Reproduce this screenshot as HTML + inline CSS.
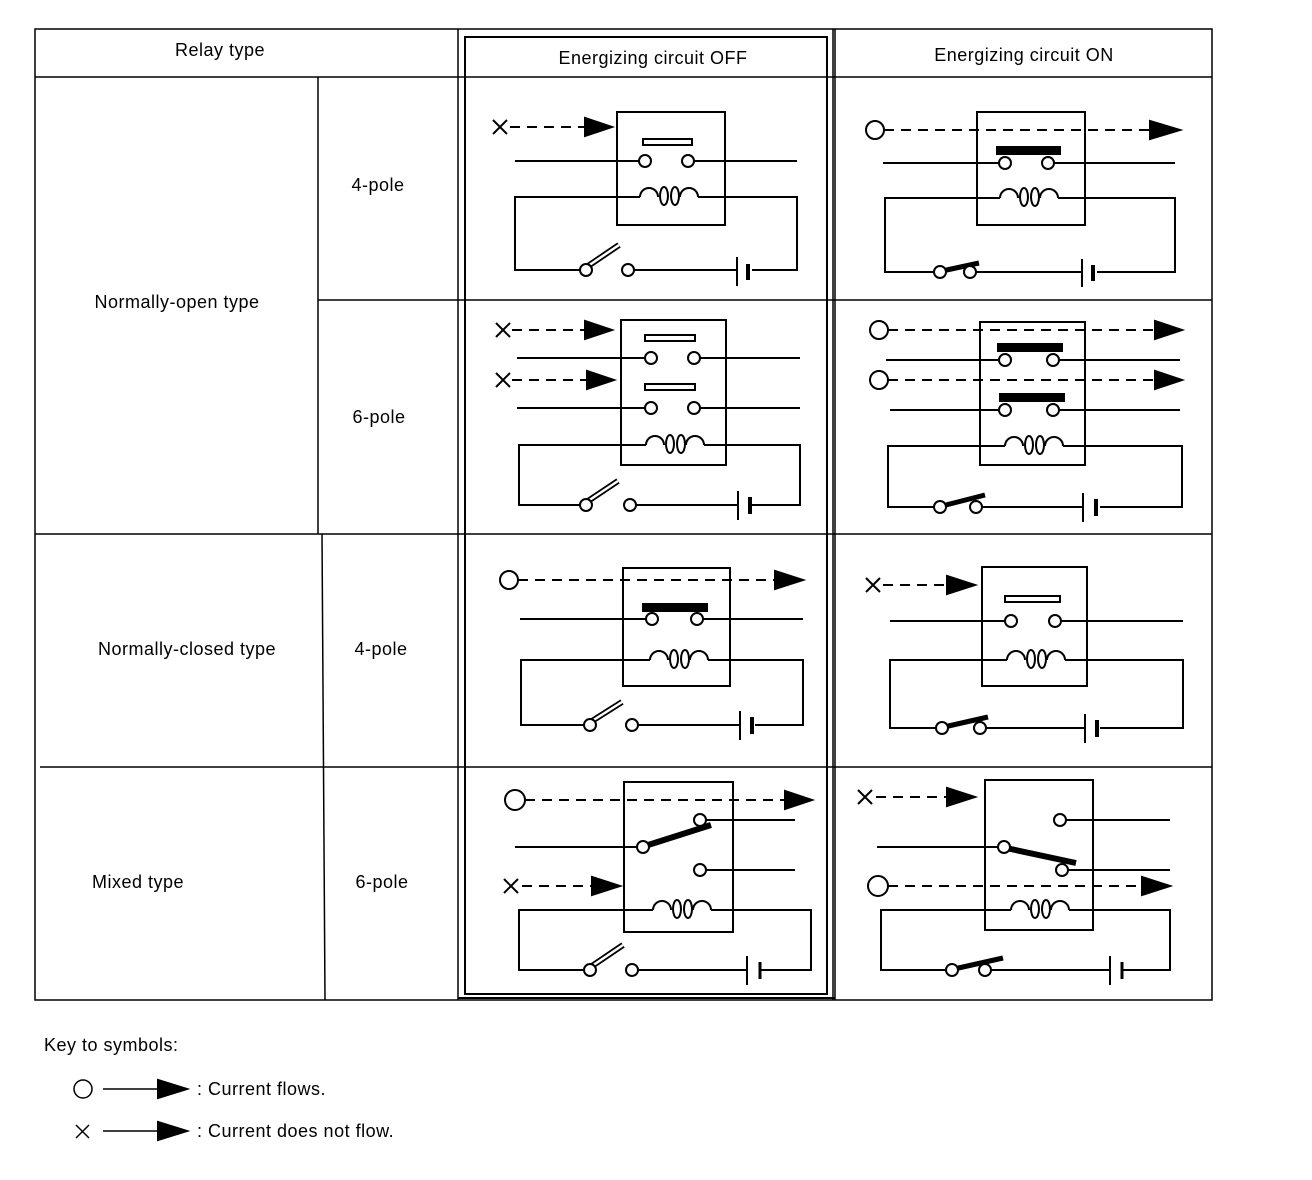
<!DOCTYPE html>
<html><head><style>
html,body{margin:0;padding:0;background:#fff;}
svg{display:block;}
text{font-family:"Liberation Sans",sans-serif;font-size:18px;fill:#000;letter-spacing:0.5px;}
</style></head><body>
<svg width="1312" height="1180" viewBox="0 0 1312 1180" xmlns="http://www.w3.org/2000/svg">
<defs>
<g id="coil" fill="none" stroke="#000" stroke-width="2">
<path d="M0,0 A9,9 0 0 1 18,0"/>
<ellipse cx="24" cy="-1" rx="4" ry="9" fill="#fff"/>
<ellipse cx="35" cy="-1" rx="4" ry="9" fill="#fff"/>
<path d="M40,0 A9,9 0 0 1 58,0"/>
</g>
</defs>
<g fill="none" stroke="#000" stroke-width="1.5">
<!-- table -->
<rect x="35" y="29" width="1177" height="971"/>
<line x1="35" y1="77" x2="1212" y2="77"/>
<line x1="318" y1="77" x2="318" y2="534"/>
<line x1="322" y1="534" x2="325" y2="1000"/>
<line x1="318" y1="300" x2="458" y2="300"/>
<line x1="35" y1="534" x2="1212" y2="534"/>
<line x1="40" y1="767" x2="1212" y2="767"/>
<line x1="458" y1="29" x2="458" y2="1000"/>
<line x1="833" y1="29" x2="833" y2="1000"/>
<line x1="458" y1="300" x2="1212" y2="300"/>
<rect x="465" y="37" width="362" height="957" stroke-width="2"/>
<line x1="458" y1="998" x2="835" y2="998" stroke-width="2"/>
<line x1="835" y1="29" x2="835" y2="1000"/>
</g>
<text x="220" y="56" text-anchor="middle">Relay type</text>
<text x="653" y="64" text-anchor="middle">Energizing circuit OFF</text>
<text x="1024" y="61" text-anchor="middle">Energizing circuit ON</text>
<text x="378" y="191" text-anchor="middle">4-pole</text>
<text x="177" y="308" text-anchor="middle">Normally-open type</text>
<text x="379" y="423" text-anchor="middle">6-pole</text>
<text x="187" y="655" text-anchor="middle">Normally-closed type</text>
<text x="381" y="655" text-anchor="middle">4-pole</text>
<text x="138" y="888" text-anchor="middle">Mixed type</text>
<text x="382" y="888" text-anchor="middle">6-pole</text>

<g fill="none" stroke="#000" stroke-width="2">
<!-- ===== NO4 OFF ===== -->
<rect x="617" y="112" width="108" height="113"/>
<line x1="493" y1="120" x2="507" y2="134"/><line x1="507" y1="120" x2="493" y2="134"/>
<line x1="510" y1="127" x2="588" y2="127" stroke-dasharray="10 7"/>
<polygon points="585,118 612,127 585,136" fill="#000"/>
<rect x="643" y="139" width="49" height="6" fill="#fff"/>
<line x1="515" y1="161" x2="639" y2="161"/><line x1="694" y1="161" x2="797" y2="161"/>
<circle cx="645" cy="161" r="6" fill="#fff"/><circle cx="688" cy="161" r="6" fill="#fff"/>
<polyline points="640,197 515,197 515,270 580,270"/>
<polyline points="698,197 797,197 797,270 752,270"/>
<line x1="634" y1="270" x2="737" y2="270"/>
<use href="#coil" x="640" y="197"/>
<line x1="588" y1="266" x2="619" y2="245" stroke-width="6"/><line x1="588" y1="266" x2="619" y2="245" stroke="#fff" stroke-width="2.5"/>
<circle cx="586" cy="270" r="6" fill="#fff"/><circle cx="628" cy="270" r="6" fill="#fff"/>
<line x1="737" y1="257" x2="737" y2="286"/><line x1="748" y1="264" x2="748" y2="280" stroke-width="4"/>

<!-- ===== NO4 ON ===== -->
<rect x="977" y="112" width="108" height="113"/>
<circle cx="875" cy="130" r="9" fill="#fff"/>
<line x1="884" y1="130" x2="1152" y2="130" stroke-dasharray="10 7"/>
<polygon points="1150,121 1180,130 1150,139" fill="#000"/>
<rect x="997" y="147" width="63" height="7" fill="#000"/>
<line x1="883" y1="163" x2="999" y2="163"/><line x1="1054" y1="163" x2="1175" y2="163"/>
<circle cx="1005" cy="163" r="6" fill="#fff"/><circle cx="1048" cy="163" r="6" fill="#fff"/>
<polyline points="1000,198 885,198 885,272 934,272"/>
<polyline points="1058,198 1175,198 1175,272 1097,272"/>
<line x1="976" y1="272" x2="1082" y2="272"/>
<use href="#coil" x="1000" y="198"/>
<line x1="942" y1="271" x2="979" y2="263" stroke-width="5"/>
<circle cx="940" cy="272" r="6" fill="#fff"/><circle cx="970" cy="272" r="6" fill="#fff"/>
<line x1="1082" y1="259" x2="1082" y2="287"/><line x1="1093" y1="265" x2="1093" y2="281" stroke-width="4"/>

<!-- ===== NO6 OFF ===== -->
<rect x="621" y="320" width="105" height="145"/>
<line x1="496" y1="323" x2="510" y2="337"/><line x1="510" y1="323" x2="496" y2="337"/>
<line x1="512" y1="330" x2="588" y2="330" stroke-dasharray="10 7"/>
<polygon points="585,321 612,330 585,339" fill="#000"/>
<line x1="496" y1="373" x2="510" y2="387"/><line x1="510" y1="373" x2="496" y2="387"/>
<line x1="512" y1="380" x2="590" y2="380" stroke-dasharray="10 7"/>
<polygon points="587,371 614,380 587,389" fill="#000"/>
<rect x="645" y="335" width="50" height="6" fill="#fff"/>
<rect x="645" y="384" width="50" height="6" fill="#fff"/>
<line x1="517" y1="358" x2="645" y2="358"/><line x1="700" y1="358" x2="800" y2="358"/>
<line x1="517" y1="408" x2="645" y2="408"/><line x1="700" y1="408" x2="800" y2="408"/>
<circle cx="651" cy="358" r="6" fill="#fff"/><circle cx="694" cy="358" r="6" fill="#fff"/>
<circle cx="651" cy="408" r="6" fill="#fff"/><circle cx="694" cy="408" r="6" fill="#fff"/>
<polyline points="646,445 519,445 519,505 580,505"/>
<polyline points="704,445 800,445 800,505 752,505"/>
<line x1="636" y1="505" x2="738" y2="505"/>
<use href="#coil" x="646" y="445"/>
<line x1="588" y1="501" x2="618" y2="481" stroke-width="6"/><line x1="588" y1="501" x2="618" y2="481" stroke="#fff" stroke-width="2.5"/>
<circle cx="586" cy="505" r="6" fill="#fff"/><circle cx="630" cy="505" r="6" fill="#fff"/>
<line x1="738" y1="491" x2="738" y2="520"/><line x1="750" y1="497" x2="750" y2="514" stroke-width="4"/>

<!-- ===== NO6 ON ===== -->
<rect x="980" y="322" width="105" height="143"/>
<circle cx="879" cy="330" r="9" fill="#fff"/>
<line x1="888" y1="330" x2="1157" y2="330" stroke-dasharray="10 7"/>
<polygon points="1155,321 1182,330 1155,339" fill="#000"/>
<circle cx="879" cy="380" r="9" fill="#fff"/>
<line x1="888" y1="380" x2="1157" y2="380" stroke-dasharray="10 7"/>
<polygon points="1155,371 1182,380 1155,389" fill="#000"/>
<rect x="998" y="344" width="64" height="7" fill="#000"/>
<rect x="1000" y="394" width="64" height="7" fill="#000"/>
<line x1="886" y1="360" x2="999" y2="360"/><line x1="1059" y1="360" x2="1180" y2="360"/>
<line x1="890" y1="410" x2="999" y2="410"/><line x1="1059" y1="410" x2="1180" y2="410"/>
<circle cx="1005" cy="360" r="6" fill="#fff"/><circle cx="1053" cy="360" r="6" fill="#fff"/>
<circle cx="1005" cy="410" r="6" fill="#fff"/><circle cx="1053" cy="410" r="6" fill="#fff"/>
<polyline points="1005,446 888,446 888,507 934,507"/>
<polyline points="1063,446 1182,446 1182,507 1100,507"/>
<line x1="982" y1="507" x2="1083" y2="507"/>
<use href="#coil" x="1005" y="446"/>
<line x1="942" y1="506" x2="985" y2="495" stroke-width="5"/>
<circle cx="940" cy="507" r="6" fill="#fff"/><circle cx="976" cy="507" r="6" fill="#fff"/>
<line x1="1083" y1="493" x2="1083" y2="522"/><line x1="1096" y1="499" x2="1096" y2="516" stroke-width="4"/>

<!-- ===== NC OFF ===== -->
<rect x="623" y="568" width="107" height="118"/>
<circle cx="509" cy="580" r="9" fill="#fff"/>
<line x1="518" y1="580" x2="777" y2="580" stroke-dasharray="10 7"/>
<polygon points="775,571 803,580 775,589" fill="#000"/>
<rect x="643" y="604" width="64" height="7" fill="#000"/>
<line x1="520" y1="619" x2="646" y2="619"/><line x1="703" y1="619" x2="803" y2="619"/>
<circle cx="652" cy="619" r="6" fill="#fff"/><circle cx="697" cy="619" r="6" fill="#fff"/>
<polyline points="650,660 521,660 521,725 584,725"/>
<polyline points="708,660 803,660 803,725 755,725"/>
<line x1="638" y1="725" x2="740" y2="725"/>
<use href="#coil" x="650" y="660"/>
<line x1="592" y1="721" x2="622" y2="702" stroke-width="6"/><line x1="592" y1="721" x2="622" y2="702" stroke="#fff" stroke-width="2.5"/>
<circle cx="590" cy="725" r="6" fill="#fff"/><circle cx="632" cy="725" r="6" fill="#fff"/>
<line x1="740" y1="711" x2="740" y2="740"/><line x1="752" y1="717" x2="752" y2="734" stroke-width="4"/>

<!-- ===== NC ON ===== -->
<rect x="982" y="567" width="105" height="119"/>
<line x1="866" y1="578" x2="880" y2="592"/><line x1="880" y1="578" x2="866" y2="592"/>
<line x1="883" y1="585" x2="950" y2="585" stroke-dasharray="10 7"/>
<polygon points="947,576 975,585 947,594" fill="#000"/>
<rect x="1005" y="596" width="55" height="6" fill="#fff"/>
<line x1="890" y1="621" x2="1005" y2="621"/><line x1="1061" y1="621" x2="1183" y2="621"/>
<circle cx="1011" cy="621" r="6" fill="#fff"/><circle cx="1055" cy="621" r="6" fill="#fff"/>
<polyline points="1007,660 890,660 890,728 936,728"/>
<polyline points="1065,660 1183,660 1183,728 1100,728"/>
<line x1="986" y1="728" x2="1085" y2="728"/>
<use href="#coil" x="1007" y="660"/>
<line x1="944" y1="727" x2="988" y2="717" stroke-width="5"/>
<circle cx="942" cy="728" r="6" fill="#fff"/><circle cx="980" cy="728" r="6" fill="#fff"/>
<line x1="1085" y1="714" x2="1085" y2="743"/><line x1="1097" y1="720" x2="1097" y2="737" stroke-width="4"/>

<!-- ===== MIXED OFF ===== -->
<rect x="624" y="782" width="109" height="150"/>
<circle cx="515" cy="800" r="10" fill="#fff"/>
<line x1="525" y1="800" x2="787" y2="800" stroke-dasharray="10 7"/>
<polygon points="785,791 812,800 785,809" fill="#000"/>
<line x1="706" y1="820" x2="795" y2="820"/>
<line x1="515" y1="847" x2="637" y2="847"/>
<line x1="645" y1="846" x2="711" y2="825" stroke-width="6"/>
<circle cx="643" cy="847" r="6" fill="#fff"/><circle cx="700" cy="820" r="6" fill="#fff"/>
<line x1="706" y1="870" x2="795" y2="870"/>
<circle cx="700" cy="870" r="6" fill="#fff"/>
<line x1="504" y1="879" x2="518" y2="893"/><line x1="518" y1="879" x2="504" y2="893"/>
<line x1="522" y1="886" x2="594" y2="886" stroke-dasharray="10 7"/>
<polygon points="592,877 620,886 592,895" fill="#000"/>
<polyline points="653,910 519,910 519,970 584,970"/>
<polyline points="711,910 811,910 811,970 760,970"/>
<line x1="638" y1="970" x2="747" y2="970"/>
<use href="#coil" x="653" y="910"/>
<line x1="592" y1="966" x2="623" y2="945" stroke-width="6"/><line x1="592" y1="966" x2="623" y2="945" stroke="#fff" stroke-width="2.5"/>
<circle cx="590" cy="970" r="6" fill="#fff"/><circle cx="632" cy="970" r="6" fill="#fff"/>
<line x1="747" y1="956" x2="747" y2="985"/><line x1="760" y1="962" x2="760" y2="979" stroke-width="3"/>

<!-- ===== MIXED ON ===== -->
<rect x="985" y="780" width="108" height="150"/>
<line x1="858" y1="790" x2="872" y2="804"/><line x1="872" y1="790" x2="858" y2="804"/>
<line x1="876" y1="797" x2="950" y2="797" stroke-dasharray="10 7"/>
<polygon points="947,788 975,797 947,806" fill="#000"/>
<line x1="1066" y1="820" x2="1170" y2="820"/>
<circle cx="1060" cy="820" r="6" fill="#fff"/>
<line x1="877" y1="847" x2="998" y2="847"/>
<line x1="1006" y1="848" x2="1076" y2="863" stroke-width="6"/>
<circle cx="1004" cy="847" r="6" fill="#fff"/>
<line x1="1068" y1="870" x2="1170" y2="870"/>
<circle cx="1062" cy="870" r="6" fill="#fff"/>
<circle cx="878" cy="886" r="10" fill="#fff"/>
<line x1="888" y1="886" x2="1144" y2="886" stroke-dasharray="10 7"/>
<polygon points="1142,877 1170,886 1142,895" fill="#000"/>
<polyline points="1011,910 881,910 881,970 946,970"/>
<polyline points="1069,910 1170,910 1170,970 1122,970"/>
<line x1="991" y1="970" x2="1110" y2="970"/>
<use href="#coil" x="1011" y="910"/>
<line x1="954" y1="969" x2="1003" y2="958" stroke-width="5"/>
<circle cx="952" cy="970" r="6" fill="#fff"/><circle cx="985" cy="970" r="6" fill="#fff"/>
<line x1="1110" y1="956" x2="1110" y2="985"/><line x1="1122" y1="962" x2="1122" y2="979" stroke-width="3"/>

<!-- key -->
<circle cx="83" cy="1089" r="9" stroke-width="1.5"/>
<line x1="103" y1="1089" x2="160" y2="1089" stroke-width="1.5"/>
<polygon points="158,1080 187,1089 158,1098" fill="#000"/>
<line x1="76" y1="1125" x2="89" y2="1138" stroke-width="1.5"/><line x1="89" y1="1125" x2="76" y2="1138" stroke-width="1.5"/>
<line x1="103" y1="1131" x2="160" y2="1131" stroke-width="1.5"/>
<polygon points="158,1122 187,1131 158,1140" fill="#000"/>
</g>
<text x="44" y="1051">Key to symbols:</text>
<text x="197" y="1095">: Current flows.</text>
<text x="197" y="1137">: Current does not flow.</text>
</svg>
</body></html>
